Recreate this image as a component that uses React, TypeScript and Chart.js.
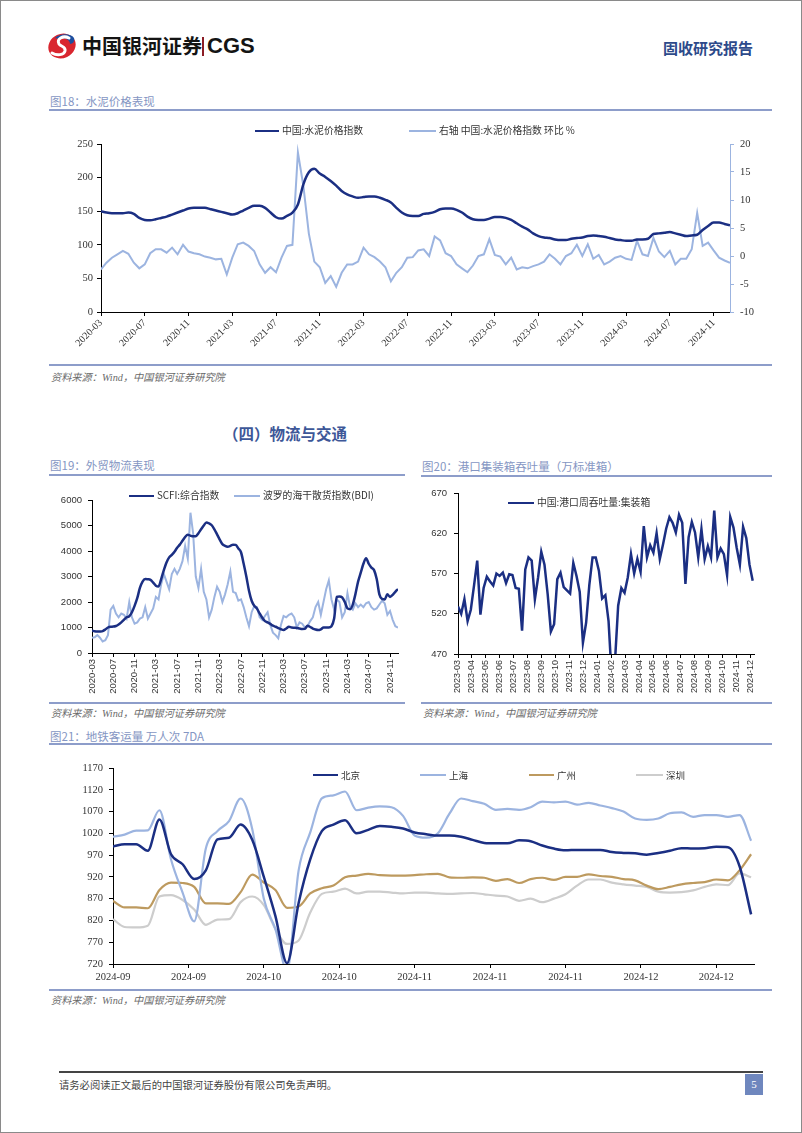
import React, { useEffect, useRef } from 'react';
import { Chart, registerables } from 'chart.js';
Chart.register(...registerables);

// ---------------- DATA ----------------
// 图18 水泥价格 (half-monthly, 2020-03 .. 2024-12)
const CEMENT_TICKS = ['2020-03','2020-07','2020-11','2021-03','2021-07','2021-11','2022-03','2022-07','2022-11','2023-03','2023-07','2023-11','2024-03','2024-07','2024-11'];
const CEMENT_INDEX = [
  150,148,147,147,147,148,146,140,137,136.5,
  138,140,142,145,148,151,154,155,155,155,
  153,151,149,147,145,147,151,155,158,158,
  155,148,141,139,143,148,160,190,208,213,
  206,201,195,188,180,175,172,170,171,172,
  172,170,167,163,155,148,144,143,143,146,
  147,149,153,154,154,152,148,142,138,137,
  137,139,141.5,141.5,140,137,132,127,123,117,
  113,111,110,108,107,107,109,110,111,113,
  114,113,112,110,108,107,106,106,108,108,
  109,116,117,118,119,117,115,113,114,115,
  122,128,133,133,131,129
];
const CEMENT_MOM = [
  -2.4,-1.2,-0.3,0.3,0.9,0.4,-1.2,-2.2,-1.5,0.5,
  1.2,1.2,0.6,1.5,0.3,2.0,0.8,0.5,0.3,-0.1,
  -0.3,-0.6,-0.5,-3.3,-0.3,2.1,2.4,1.8,0.9,-1.5,
  -3.0,-2.0,-2.9,-0.3,1.8,2.0,18.5,12.5,4.0,-1.0,
  -2.0,-4.8,-3.6,-5.5,-3.0,-1.5,-1.5,-1.0,1.5,0.3,
  -0.2,-1.0,-2.0,-4.5,-3.0,-2.0,-0.3,-0.2,1.0,1.2,
  0.0,3.5,2.8,0.5,0.0,-1.5,-2.2,-2.9,-1.7,0.0,
  0.3,3.0,0.2,-0.1,-1.5,-0.3,-2.4,-2.0,-2.2,-1.8,
  -1.5,-1.0,0.3,-0.5,-1.5,0.0,0.5,2.0,0.0,2.1,
  -0.5,0.2,-1.5,-1.0,-0.3,0.0,-0.5,-0.7,2.7,0.3,
  0.0,3.2,0.8,-0.2,0.9,-1.5,-0.5,-0.5,1.2,7.7,
  1.8,2.4,1.0,-0.3,-0.8,-1.2
];

// 图19 外贸物流 (half-monthly, 2020-03 .. 2024-12)
const FREIGHT_TICKS = CEMENT_TICKS;
const SCFI = [
  880,850,840,845,860,920,1000,1030,1035,1060,
  1120,1200,1300,1400,1440,1600,1850,2150,2550,2800,
  2900,2890,2870,2760,2640,2610,2900,3250,3550,3750,
  3850,3970,4130,4250,4400,4550,4640,4600,4575,4580,
  4700,4850,5000,5120,5080,5010,4850,4650,4450,4270,
  4200,4170,4200,4250,4240,4100,3950,3500,3000,2440,
  2050,1850,1740,1550,1380,1250,1200,1140,1070,1030,
  980,930,900,960,1030,1000,990,980,960,945,
  950,1070,1020,960,920,900,930,1000,1000,1000,
  1050,1350,2200,2220,2180,2000,1750,1720,1900,2310,
  2800,3150,3500,3720,3500,3350,3250,2900,2300,2120,
  2100,2300,2200,2280,2400,2510
];
const BDI = [
  600,620,700,600,450,500,700,1700,1850,1550,
  1400,1550,1500,1350,2000,1400,1150,1200,1350,1400,
  1800,1350,1550,1750,2200,2100,2700,3100,2800,2500,
  3100,3300,3100,3300,3600,4200,3700,5500,4700,3000,
  2550,3300,2400,2100,1400,1700,2200,2600,2400,2000,
  2300,2700,3200,2400,2350,2050,2100,1800,1400,1050,
  1600,1850,1800,1400,1300,1450,1600,1100,800,700,
  580,1100,1450,1400,1500,1550,1400,1000,1200,1150,
  1000,1050,1250,1400,1800,2000,1500,2000,2500,2850,
  2100,1700,2100,2000,1400,1600,2350,1800,1700,1950,
  1800,1900,1800,1950,2000,1800,1700,1750,1900,2050,
  1950,1500,1650,1300,1050,1000
];

// 图20 港口集装箱吞吐量 (weekly, from 2023-03)
const PORT_TICKS = ['2023-03','2023-04','2023-05','2023-06','2023-07','2023-08','2023-09','2023-10','2023-11','2023-12','2024-01','2024-02','2024-03','2024-04','2024-05','2024-06','2024-07','2024-08','2024-09','2024-10','2024-11','2024-12'];
const PORT_TEU = [
  529,520,538,511,525,555,586,519,552,566,
  560,555,570,567,571,558,569,568,552,551,
  499,575,590,586,538,565,597,581,544,498,
  507,563,571,553,549,545,583,567,547,484,
  509,556,590,590,573,539,543,511,440,460,
  530,552,546,565,594,570,588,572,629,590,
  605,596,620,588,606,626,640,633,621,643,
  633,557,615,634,621,590,625,588,604,590,
  648,590,601,594,568,640,627,602,581,628,
  614,581,561
];

// 图21 地铁客运量 7DA (every 2 days)
const METRO_TICKS = ['2024-09','2024-09','2024-10','2024-10','2024-11','2024-11','2024-11','2024-12','2024-12'];
const BEIJING = [
  990,995,995,980,1052,972,949,915,935,1006,
  1010,1040,1005,920,830,722,860,960,1025,1040,
  1050,1020,1028,1037,1035,1031,1022,1018,1015,1015,
  1012,1005,998,997,997,1004,1002,992,985,981,
  982,982,982,977,975,974,971,975,980,986,
  985,986,989,988,945,834
];
const SHANGHAI = [
  1012,1017,1026,1027,1073,960,884,818,985,1025,
  1048,1100,1030,870,800,705,935,1022,1100,1107,
  1116,1073,1079,1082,1080,1060,1015,1010,1020,1065,
  1100,1094,1088,1074,1076,1074,1080,1093,1091,1093,
  1086,1090,1084,1078,1070,1054,1051,1054,1066,1068,
  1058,1062,1062,1058,1062,1003
];
const GUANGZHOU = [
  865,850,850,848,890,907,906,897,859,859,
  858,885,925,907,890,849,852,882,894,900,
  919,923,927,924,923,923,924,926,927,919,
  918,919,918,911,915,906,915,918,913,920,
  920,926,922,920,915,912,900,892,897,903,
  906,908,914,912,935,972
];
const SHENZHEN = [
  823,805,804,808,875,878,867,845,810,822,
  823,862,875,855,800,766,774,838,881,886,
  893,882,886,886,884,882,884,884,882,881,
  882,883,880,877,875,865,870,862,870,880,
  900,914,914,907,903,900,897,886,884,885,
  889,897,903,901,928,919
];

// ---------------- STYLE ----------------
const NAVY = '#1b2f83';
const LIGHT = '#9cb4e0';
const GOLD = '#bd9a5f';
const GREY = '#cdcdcd';
const TITLE_C = '#8596c3';
const RULE_C = '#8d9dca';
const TICK_C = '#333333';
const SERIF = "'Liberation Serif', 'Times New Roman', 'Noto Sans CJK SC', serif";
const SANS = "'Liberation Sans', Arial, 'Noto Sans CJK SC', sans-serif";
const CJK = "'Noto Sans CJK SC', 'Liberation Sans', sans-serif";
const SRC_FONT = "'Liberation Serif', 'Noto Sans CJK SC', serif";

const pts = (arr: number[], step = 1) => arr.map((y, i) => ({ x: i * step, y }));
const yFit = (w: number) => (s: any) => { s.width = w; s.paddingTop = 0; s.paddingBottom = 0; };
const xFit = (h: number) => (s: any) => { s.height = h; s.paddingLeft = 0; s.paddingRight = 0; };
const fixedTicks = (vals: number[]) => (s: any) => { s.ticks = vals.map(v => ({ value: v })); };
const tickGrid = (color = '#000') => ({ display: true, drawOnChartArea: false, drawTicks: true, tickLength: 4, color, lineWidth: 1 });

function ChartCanvas({ left, top, width, height, make }: { left: number; top: number; width: number; height: number; make: () => any }) {
  const ref = useRef<HTMLCanvasElement>(null);
  useEffect(() => {
    const chart = new Chart(ref.current as HTMLCanvasElement, make());
    return () => chart.destroy();
  }, []);
  return <canvas ref={ref} width={width} height={height} style={{ position: 'absolute', left, top, width, height }} />;
}

function Txt({ x, cy, size, color = '#333', weight = 400, family = CJK, italic = false, children }: any) {
  return (
    <div style={{ position: 'absolute', left: x, top: cy - size, height: size * 2, lineHeight: `${size * 2}px`, fontSize: size, color, fontWeight: weight, fontFamily: family, fontStyle: italic ? 'italic' : 'normal', whiteSpace: 'nowrap' }}>{children}</div>
  );
}

function Rule({ x1, x2, y, h = 1, color = RULE_C }: any) {
  return <div style={{ position: 'absolute', left: x1, top: y - h / 2, width: x2 - x1, height: h, background: color }} />;
}

function Leg({ x, y, w, color, lw, text, size = 9.8, family = CJK }: any) {
  return (
    <>
      <div style={{ position: 'absolute', left: x, top: y - lw / 2, width: w, height: lw, background: color }} />
      <Txt x={x + w + 3} cy={y} size={size} color="#333" family={family}>{text}</Txt>
    </>
  );
}

// ---------------- CHART CONFIGS ----------------
const makeCement = () => ({
  type: 'line',
  data: {
    datasets: [
      { label: '中国:水泥价格指数', data: pts(CEMENT_INDEX), yAxisID: 'y', borderColor: NAVY, borderWidth: 2.5, pointRadius: 0, cubicInterpolationMode: 'monotone' },
      { label: '右轴 中国:水泥价格指数 环比 %', data: pts(CEMENT_MOM), yAxisID: 'y1', borderColor: LIGHT, borderWidth: 2, pointRadius: 0, tension: 0 },
    ],
  },
  options: {
    animation: false, responsive: false, maintainAspectRatio: false, devicePixelRatio: 1,
    layout: { padding: { top: 28, left: 0, right: 0, bottom: 0 } },
    plugins: { legend: { display: false }, tooltip: { enabled: false } },
    scales: {
      x: {
        type: 'linear', min: 0, max: 115,
        afterBuildTicks: fixedTicks(CEMENT_TICKS.map((_, k) => k * 8)),
        afterFit: xFit(51),
        ticks: { autoSkip: false, maxRotation: 45, minRotation: 45, padding: 1, color: TICK_C, font: { family: SERIF, size: 10 }, callback: (_v: any, i: number) => CEMENT_TICKS[i] },
        grid: tickGrid(), border: { display: true, color: '#000' },
      },
      y: {
        position: 'left', min: 0, max: 250,
        afterFit: yFit(52),
        ticks: { stepSize: 50, padding: 4, color: TICK_C, font: { family: SERIF, size: 10.5 }, callback: (v: any) => String(v) },
        grid: tickGrid(), border: { display: true, color: '#000' },
      },
      y1: {
        position: 'right', min: -10, max: 20,
        afterFit: yFit(42),
        ticks: { stepSize: 5, padding: 6, color: TICK_C, font: { family: SERIF, size: 10.5 }, callback: (v: any) => String(v) },
        grid: tickGrid(LIGHT), border: { display: true, color: LIGHT },
      },
    },
  },
});

const makeFreight = () => ({
  type: 'line',
  data: {
    datasets: [
      { label: 'SCFI:综合指数', data: pts(SCFI), borderColor: NAVY, borderWidth: 2.5, pointRadius: 0, cubicInterpolationMode: 'monotone' },
      { label: '波罗的海干散货指数(BDI)', data: pts(BDI), borderColor: LIGHT, borderWidth: 2, pointRadius: 0, tension: 0 },
    ],
  },
  options: {
    animation: false, responsive: false, maintainAspectRatio: false, devicePixelRatio: 1,
    layout: { padding: { top: 21, left: 0, right: 7, bottom: 0 } },
    plugins: { legend: { display: false }, tooltip: { enabled: false } },
    scales: {
      x: {
        type: 'linear', min: 0, max: 115,
        afterBuildTicks: fixedTicks(FREIGHT_TICKS.map((_, k) => k * 8)),
        afterFit: xFit(48),
        ticks: { autoSkip: false, maxRotation: 90, minRotation: 90, padding: 2, color: TICK_C, font: { family: SANS, size: 9.5 }, callback: (_v: any, i: number) => FREIGHT_TICKS[i] },
        grid: tickGrid(), border: { display: true, color: '#000' },
      },
      y: {
        min: 0, max: 6000,
        afterFit: yFit(43),
        ticks: { stepSize: 1000, padding: 6, color: TICK_C, font: { family: SANS, size: 9.5 }, callback: (v: any) => String(v) },
        grid: tickGrid(), border: { display: true, color: '#000' },
      },
    },
  },
});

const WEEK_IN_MONTHS = 7 / 30.44;
const makePort = () => ({
  type: 'line',
  data: {
    datasets: [
      { label: '中国:港口周吞吐量:集装箱', data: pts(PORT_TEU, WEEK_IN_MONTHS), borderColor: NAVY, borderWidth: 2.5, pointRadius: 0, tension: 0 },
    ],
  },
  options: {
    animation: false, responsive: false, maintainAspectRatio: false, devicePixelRatio: 1,
    layout: { padding: { top: 14, left: 0, right: 18, bottom: 0 } },
    plugins: { legend: { display: false }, tooltip: { enabled: false } },
    scales: {
      x: {
        type: 'linear', min: 0, max: 21.25,
        afterBuildTicks: fixedTicks(PORT_TICKS.map((_, k) => k)),
        afterFit: xFit(47),
        ticks: { autoSkip: false, maxRotation: 90, minRotation: 90, padding: 2, color: TICK_C, font: { family: SANS, size: 9 }, callback: (_v: any, i: number) => PORT_TICKS[i] },
        grid: tickGrid(), border: { display: true, color: '#000' },
      },
      y: {
        min: 470, max: 670,
        afterFit: yFit(37),
        ticks: { stepSize: 50, padding: 7, color: TICK_C, font: { family: SANS, size: 9.5 }, callback: (v: any) => String(v) },
        grid: tickGrid(), border: { display: true, color: '#000' },
      },
    },
  },
});

const makeMetro = () => ({
  type: 'line',
  data: {
    datasets: [
      { label: '北京', data: pts(BEIJING, 2), borderColor: NAVY, borderWidth: 2.5, pointRadius: 0, cubicInterpolationMode: 'monotone' },
      { label: '上海', data: pts(SHANGHAI, 2), borderColor: LIGHT, borderWidth: 2.2, pointRadius: 0, cubicInterpolationMode: 'monotone' },
      { label: '广州', data: pts(GUANGZHOU, 2), borderColor: GOLD, borderWidth: 2.2, pointRadius: 0, cubicInterpolationMode: 'monotone' },
      { label: '深圳', data: pts(SHENZHEN, 2), borderColor: GREY, borderWidth: 2.2, pointRadius: 0, cubicInterpolationMode: 'monotone' },
    ],
  },
  options: {
    animation: false, responsive: false, maintainAspectRatio: false, devicePixelRatio: 1,
    layout: { padding: { top: 20, left: 0, right: 18, bottom: 0 } },
    plugins: { legend: { display: false }, tooltip: { enabled: false } },
    scales: {
      x: {
        type: 'linear', min: 0, max: 110.5,
        afterBuildTicks: fixedTicks(METRO_TICKS.map((_, k) => k * 13)),
        afterFit: xFit(24),
        ticks: { autoSkip: false, maxRotation: 0, minRotation: 0, padding: 3, color: TICK_C, font: { family: SERIF, size: 10.5 }, callback: (_v: any, i: number) => METRO_TICKS[i] },
        grid: tickGrid(), border: { display: true, color: '#000' },
      },
      y: {
        min: 720, max: 1170,
        afterFit: yFit(64),
        ticks: { stepSize: 50, padding: 6, color: TICK_C, font: { family: SERIF, size: 10.5 }, callback: (v: any) => String(v) },
        grid: tickGrid(), border: { display: true, color: '#000' },
      },
    },
  },
});

function Logo() {
  return (
    <svg width={32} height={28} viewBox="0 0 32 28" style={{ position: 'absolute', left: 45, top: 31 }}>
      <ellipse cx={16} cy={14} rx={14} ry={12} transform="rotate(-25 16 14)" fill="#d9262f" />
      <path d="M9 6 C14 1 25 1 28 6 C29 9 27 12 24 12 C24 8 19 5 13 7 Z" fill="#1d4f9f" />
      <path d="M23 6 C17 3 10 7 13 12 C15 15 20 14 19 19 C18 23 11 24 6 21" stroke="#fff" strokeWidth={3} fill="none" strokeLinecap="round" />
    </svg>
  );
}

export default function App() {
  return (
    <div style={{ position: 'absolute', left: 0, top: 0, width: 802, height: 1133, background: '#fff', boxSizing: 'border-box', border: '1px solid #8a8a8a', overflow: 'hidden' }}>
      {/* header */}
      <Logo />
      <Txt x={81} cy={45} size={20} weight={700} color="#141414" family={CJK}>中国银河证券</Txt>
      <div style={{ position: 'absolute', left: 201, top: 36, width: 2, height: 19, background: '#8c1d25' }} />
      <Txt x={206} cy={45} size={22} weight={700} color="#141414" family={SANS}>CGS</Txt>
      <Txt x={662} cy={47} size={15} weight={700} color="#2d4a8a" family={CJK}>固收研究报告</Txt>

      {/* 图18 */}
      <Txt x={49} cy={100} size={11.5} color={TITLE_C}>图18：水泥价格表现</Txt>
      <Rule x1={48} x2={771} y={109} h={1.5} />
      <ChartCanvas left={48} top={115} width={723} height={247} make={makeCement} />
      <Leg x={254} y={130} w={24} color={NAVY} lw={2.5} text="中国:水泥价格指数" />
      <Leg x={408} y={130} w={27} color={LIGHT} lw={2} text="右轴 中国:水泥价格指数 环比 %" />
      <Rule x1={48} x2={771} y={364} h={1.2} />
      <Txt x={50} cy={377} size={10.2} color="#6a6a6a" italic family={SRC_FONT}>资料来源：Wind，中国银河证券研究院</Txt>

      {/* section */}
      <Txt x={222} cy={432} size={15.5} weight={700} color="#3d5798">（四）物流与交通</Txt>

      {/* 图19 */}
      <Txt x={49} cy={464} size={11.5} color={TITLE_C}>图19：外贸物流表现</Txt>
      <Rule x1={48} x2={404} y={474} h={1.5} />
      <ChartCanvas left={48} top={478} width={356} height={222} make={makeFreight} />
      <Leg x={128} y={495} w={25} color={NAVY} lw={2.5} text="SCFI:综合指数" />
      <Leg x={233} y={495} w={26} color={LIGHT} lw={2} text="波罗的海干散货指数(BDI)" />
      <Rule x1={48} x2={404} y={702} h={1.2} />
      <Txt x={50} cy={713} size={10.2} color="#6a6a6a" italic family={SRC_FONT}>资料来源：Wind，中国银河证券研究院</Txt>

      {/* 图20 */}
      <Txt x={421} cy={465} size={11.5} color={TITLE_C}>图20：港口集装箱吞吐量（万标准箱）</Txt>
      <Rule x1={420} x2={771} y={475} h={1.5} />
      <ChartCanvas left={420} top={478} width={351} height={222} make={makePort} />
      <Leg x={507} y={502} w={26} color={NAVY} lw={2.5} text="中国:港口周吞吐量:集装箱" />
      <Rule x1={420} x2={771} y={702} h={1.2} />
      <Txt x={422} cy={713} size={10.2} color="#6a6a6a" italic family={SRC_FONT}>资料来源：Wind，中国银河证券研究院</Txt>

      {/* 图21 */}
      <Txt x={49} cy={735} size={11.5} color={TITLE_C}>图21：地铁客运量 万人次 7DA</Txt>
      <Rule x1={48} x2={771} y={743} h={1.5} />
      <ChartCanvas left={48} top={747} width={723} height={240} make={makeMetro} />
      <Leg x={312} y={774} w={25} color={NAVY} lw={2.5} text="北京" size={9.5} />
      <Leg x={419} y={774} w={26} color={LIGHT} lw={2.2} text="上海" size={9.5} />
      <Leg x={528} y={774} w={25} color={GOLD} lw={2.2} text="广州" size={9.5} />
      <Leg x={635} y={774} w={27} color={GREY} lw={2.2} text="深圳" size={9.5} />
      <Rule x1={48} x2={771} y={989} h={1.2} />
      <Txt x={50} cy={1000} size={10.2} color="#6a6a6a" italic family={SRC_FONT}>资料来源：Wind，中国银河证券研究院</Txt>

      {/* footer */}
      <Rule x1={58} x2={762} y={1071} h={1.5} color="#444" />
      <Txt x={58} cy={1084} size={10.3} color="#444">请务必阅读正文最后的中国银河证券股份有限公司免责声明。</Txt>
      <div style={{ position: 'absolute', left: 744, top: 1073, width: 18, height: 21, background: '#6f87be', color: '#fff', fontSize: 11, lineHeight: '21px', textAlign: 'center', fontFamily: SERIF }}>5</div>
    </div>
  );
}
